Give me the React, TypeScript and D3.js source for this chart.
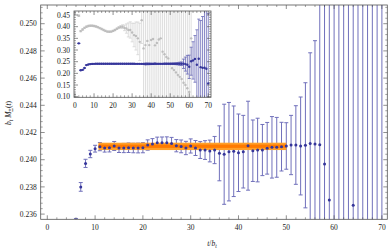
import React from 'react';
import * as d3 from 'd3';

// main series: time slice, b_t M(t), error
const blueT = [2, 3, 4, 5, 6, 7, 8, 9, 10, 11, 12, 13, 14, 15, 16, 17, 18, 19, 20, 21, 22, 23, 24, 25, 26,
  27, 28, 29, 30, 31, 32, 33, 34, 35, 36, 37, 38, 39, 40, 41, 42, 43, 44, 45, 46, 47, 48, 49, 50, 51,
  52, 53, 54, 55, 56, 57, 58, 59, 60, 61, 62, 63, 64, 65, 66, 67, 68, 69, 70];
const blueVal = [0.3285, 0.2135, 0.2150, 0.2230, 0.2354, 0.2380, 0.23973, 0.24042, 0.24081, 0.24096,
  0.24086, 0.24088, 0.24101, 0.24086, 0.24086, 0.24088, 0.24086, 0.24086, 0.24088, 0.24108, 0.24115,
  0.24125, 0.24125, 0.24125, 0.24120, 0.24103, 0.24098, 0.24086, 0.24101, 0.24086, 0.24071, 0.24071,
  0.24064, 0.24071, 0.24047, 0.24040, 0.24059, 0.24062, 0.24051, 0.24059, 0.24103, 0.24066, 0.24071,
  0.24071, 0.24084, 0.24091, 0.24091, 0.24096, 0.24101, 0.24108, 0.24108, 0.24101, 0.24106, 0.24120,
  0.24115, 0.24110, 0.23968, 0.23704, 0.2280, 0.2520, 0.2555, 0.2620, 0.23665, 0.2625, 0.2265, 0.2235,
  0.2240, 0.2200, 0.1570];
const blueErr = [0.0005, 0.0004, 0.0004, 0.0003, 0.00028, 0.00032, 0.00030, 0.00027, 0.00025, 0.00030,
  0.00030, 0.00031, 0.00033, 0.00033, 0.00034, 0.00035, 0.00035, 0.00036, 0.00037, 0.00038, 0.00040,
  0.00041, 0.00042, 0.00043, 0.00044, 0.00045, 0.00047, 0.00049, 0.00052, 0.00055, 0.00062, 0.00069,
  0.00080, 0.00100, 0.00202, 0.00368, 0.00362, 0.00333, 0.00285, 0.00267, 0.00327, 0.00226, 0.00234,
  0.00188, 0.00190, 0.00226, 0.00220, 0.00179, 0.00171, 0.00218, 0.00289, 0.00360, 0.00460, 0.00666,
  0.00760, 0.020, 0.030, 0.040, 0.050, 0.060, 0.080, 0.100, 0.150, 0.170, 0.200, 0.220, 0.250, 0.300, 0.300];

// second (grey) series only shown in the inset
const greyT = [2, 3, 4, 5, 6, 7, 8, 9, 10, 11, 12, 13, 14, 15, 16, 17, 18, 19, 20, 21, 22, 23, 24, 25, 26,
  27, 28, 29, 30, 31, 32, 33, 34, 35, 36, 37, 38, 39, 40, 41, 42, 43, 44, 45, 46, 47, 48, 49, 50, 51,
  52, 53, 54, 55, 56, 57, 58, 59, 60, 61];
const greyVal = [0.447, 0.381, 0.388, 0.395, 0.400, 0.403, 0.404, 0.404, 0.403, 0.401, 0.398, 0.394,
  0.390, 0.386, 0.382, 0.379, 0.378, 0.379, 0.382, 0.386, 0.391, 0.396, 0.399, 0.400, 0.395, 0.392,
  0.386, 0.386, 0.375, 0.364, 0.360, 0.350, 0.335, 0.428, 0.307, 0.321, 0.339, 0.321, 0.343, 0.347,
  0.320, 0.330, 0.345, 0.350, 0.293, 0.282, 0.270, 0.264, 0.240, 0.222, 0.214, 0.204, 0.193, 0.185,
  0.176, 0.160, 0.150, 0.136, 0.120, 0.350];
const greyErr = [0.003, 0.003, 0.003, 0.003, 0.003, 0.003, 0.003, 0.003, 0.003, 0.003, 0.003, 0.003,
  0.003, 0.003, 0.003, 0.003, 0.003, 0.003, 0.003, 0.003, 0.003, 0.004, 0.006, 0.008, 0.012, 0.020,
  0.030, 0.035, 0.040, 0.050, 0.060, 0.070, 0.080, 0.100, 0.350, 0.350, 0.350, 0.350, 0.350, 0.350,
  0.350, 0.350, 0.350, 0.350, 0.350, 0.350, 0.350, 0.350, 0.350, 0.350, 0.350, 0.350, 0.350, 0.350,
  0.350, 0.350, 0.350, 0.350, 0.350, 0.350];

// plateau fit
const fitRange = [10.7, 50];
const fitBand = [0.24071, 0.24125];
const fitCore = [0.24087, 0.24111];

const mainXTicks = [0, 10, 20, 30, 40, 50, 60, 70];
const mainYTicks = [0.236, 0.238, 0.240, 0.242, 0.244, 0.246, 0.248, 0.250];
const insetXTicks = [0, 10, 20, 30, 40, 50, 60, 70];
const insetYTicks = [0.10, 0.15, 0.20, 0.25, 0.30, 0.35, 0.40, 0.45];

const FONT = '"Liberation Serif", "Times New Roman", Times, serif';
const W = 392, H = 252;
const mainBox = { left: 40.7, right: 387.3, top: 5, bottom: 219.3 };
const insetBox = { left: 74, right: 211, top: 11, bottom: 97.3 };

function Frame({ box, x, y, xTicks, yTicks, xMinor, yMinor, xFmt, yFmt }) {
  const tick = '#444';
  const inX = (v) => v >= x.domain()[0] && v <= x.domain()[1];
  const inY = (v) => v >= y.domain()[0] && v <= y.domain()[1];
  const xm = d3.range(0, 72, xMinor).filter(v => inX(v) && !xTicks.includes(v));
  const ym = d3.range(yTicks[0] - 5 * yMinor, yTicks[yTicks.length - 1] + 5 * yMinor, yMinor)
    .filter(v => inY(v) && !yTicks.some(t => Math.abs(t - v) < yMinor / 10));
  return (
    <g>
      <rect x={box.left} y={box.top} width={box.right - box.left} height={box.bottom - box.top}
        fill="none" stroke="#555" strokeWidth={0.8} />
      {xTicks.map(t => (
        <g key={'xt' + t} stroke={tick} strokeWidth={0.6}>
          <line x1={x(t)} x2={x(t)} y1={box.bottom} y2={box.bottom - 4} />
          <line x1={x(t)} x2={x(t)} y1={box.top} y2={box.top + 4} />
        </g>
      ))}
      {xm.map(t => (
        <g key={'xm' + t} stroke={tick} strokeWidth={0.5}>
          <line x1={x(t)} x2={x(t)} y1={box.bottom} y2={box.bottom - 2} />
          <line x1={x(t)} x2={x(t)} y1={box.top} y2={box.top + 2} />
        </g>
      ))}
      {yTicks.map(v => (
        <g key={'yt' + v} stroke={tick} strokeWidth={0.6}>
          <line x1={box.left} x2={box.left + 4} y1={y(v)} y2={y(v)} />
          <line x1={box.right} x2={box.right - 4} y1={y(v)} y2={y(v)} />
        </g>
      ))}
      {ym.map(v => (
        <g key={'ym' + v} stroke={tick} strokeWidth={0.5}>
          <line x1={box.left} x2={box.left + 2} y1={y(v)} y2={y(v)} />
          <line x1={box.right} x2={box.right - 2} y1={y(v)} y2={y(v)} />
        </g>
      ))}
      {xTicks.map(t => (
        <text key={'xl' + t} x={x(t)} y={box.bottom + 10.5} textAnchor="middle"
          fontFamily={FONT} fontSize={7.5} fill="#222">{xFmt(t)}</text>
      ))}
      {yTicks.map(v => (
        <text key={'yl' + v} x={box.left - 4} y={y(v) + 2.6} textAnchor="end"
          fontFamily={FONT} fontSize={7.5} fill="#222">{yFmt(v)}</text>
      ))}
    </g>
  );
}

function Bars({ ts, vals, errs, x, y, barColor, cap, barWidth }) {
  return (
    <g>
      {ts.map((t, i) => {
        const cx = x(t);
        const y0 = y(vals[i] - errs[i]);
        const y1 = y(vals[i] + errs[i]);
        return (
          <g key={'b' + t} stroke={barColor} strokeWidth={barWidth}>
            <line x1={cx} x2={cx} y1={y0} y2={y1} />
            <line x1={cx - cap} x2={cx + cap} y1={y0} y2={y0} />
            <line x1={cx - cap} x2={cx + cap} y1={y1} y2={y1} />
          </g>
        );
      })}
    </g>
  );
}

function Points({ ts, vals, x, y, color, r }) {
  return (
    <g>
      {ts.map((t, i) => (
        <circle key={'p' + t} cx={x(t)} cy={y(vals[i])} r={r} fill={color} />
      ))}
    </g>
  );
}

export default function App() {
  const x = d3.scaleLinear().domain([-1.38, 71.13]).range([mainBox.left, mainBox.right]);
  const y = d3.scaleLinear().domain([0.235618, 0.251375]).range([mainBox.bottom, mainBox.top]);
  const xi = d3.scaleLinear().domain([-0.525, 71.43]).range([insetBox.left, insetBox.right]);
  const yi = d3.scaleLinear().domain([0.0974, 0.4672]).range([insetBox.bottom, insetBox.top]);

  const mainIdx = blueT.map((t, i) => i).filter(i => blueT[i] >= 6);
  const mT = mainIdx.map(i => blueT[i]);
  const mV = mainIdx.map(i => blueVal[i]);
  const mE = mainIdx.map(i => blueErr[i]);

  return (
    <div style={{ position: 'fixed', left: 0, top: 0, background: '#fff' }}>
      <svg width={W} height={H} style={{ display: 'block' }}>
        <defs>
          <clipPath id="mainClip">
            <rect x={mainBox.left} y={mainBox.top} width={mainBox.right - mainBox.left} height={mainBox.bottom - mainBox.top} />
          </clipPath>
          <clipPath id="insetClip">
            <rect x={insetBox.left} y={insetBox.top} width={insetBox.right - insetBox.left} height={insetBox.bottom - insetBox.top} />
          </clipPath>
        </defs>
        <rect width={W} height={H} fill="#fff" />

        <g clipPath="url(#mainClip)">
          <Bars ts={mT} vals={mV} errs={mE} x={x} y={y} barColor="#7070bb" cap={2} barWidth={1} />
          <rect x={x(fitRange[0])} width={x(fitRange[1]) - x(fitRange[0])}
            y={y(fitBand[1])} height={y(fitBand[0]) - y(fitBand[1])} fill="#ffa02a" />
          <rect x={x(fitRange[0])} width={x(fitRange[1]) - x(fitRange[0])}
            y={y(fitCore[1])} height={y(fitCore[0]) - y(fitCore[1])} fill="#ff7a00" />
          <Points ts={mT} vals={mV} x={x} y={y} color="#35359a" r={1.5} />
        </g>
        <Frame box={mainBox} x={x} y={y} xTicks={mainXTicks} yTicks={mainYTicks}
          xMinor={2} yMinor={0.0004} xFmt={d3.format('d')} yFmt={d3.format('.3f')} />

        <text transform="translate(11,113) rotate(-90)" textAnchor="middle" fontFamily={FONT}
          fontSize={7.5} fill="#222">
          <tspan fontStyle="italic">b</tspan><tspan fontSize={5.5} dy={2} fontStyle="italic">t</tspan>
          <tspan dy={-2} fontStyle="italic"> M</tspan><tspan fontSize={5.5} dy={2}>Ξ</tspan>
          <tspan dy={-2}>(</tspan><tspan fontStyle="italic">t</tspan><tspan>)</tspan>
        </text>
        <text x={212} y={246} textAnchor="middle" fontFamily={FONT} fontSize={7.5} fill="#222">
          <tspan fontStyle="italic">t</tspan><tspan>/</tspan><tspan fontStyle="italic">b</tspan>
          <tspan fontSize={5.5} dy={2} fontStyle="italic">t</tspan>
        </text>

        <rect x={insetBox.left - 24} y={insetBox.top - 4} width={insetBox.right - insetBox.left + 30}
          height={insetBox.bottom - insetBox.top + 18} fill="#fff" />
        <g clipPath="url(#insetClip)">
          <Bars ts={greyT} vals={greyVal} errs={greyErr} x={xi} y={yi} barColor="#d6d6d6" cap={1.5} barWidth={0.8} />
          <Points ts={greyT} vals={greyVal} x={xi} y={yi} color="#bdbdbd" r={1.2} />
          <Bars ts={blueT} vals={blueVal} errs={blueErr} x={xi} y={yi} barColor="#6a6ab8" cap={1.5} barWidth={0.8} />
          <Points ts={blueT} vals={blueVal} x={xi} y={yi} color="#35359a" r={1.2} />
        </g>
        <Frame box={insetBox} x={xi} y={yi} xTicks={insetXTicks} yTicks={insetYTicks}
          xMinor={2} yMinor={0.01} xFmt={d3.format('d')} yFmt={d3.format('.2f')} />
      </svg>
    </div>
  );
}
